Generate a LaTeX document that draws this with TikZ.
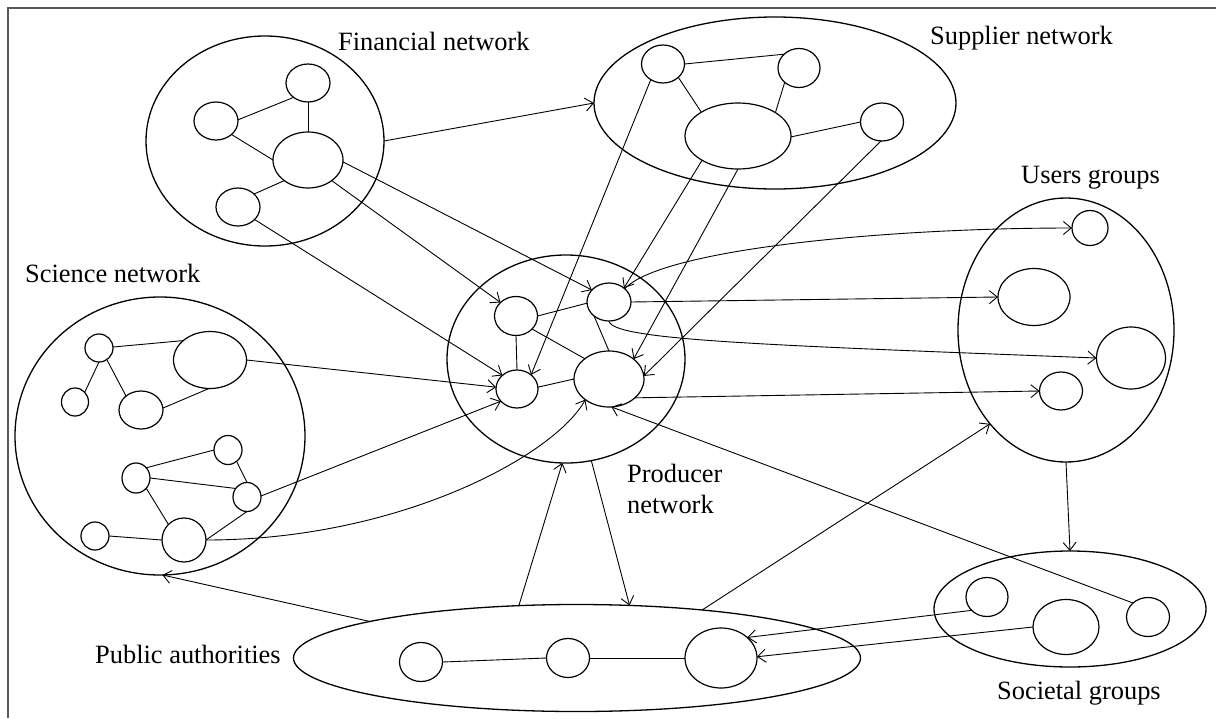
\documentclass[tikz,border=0pt]{standalone}
\usepackage{fontspec}
\setmainfont{Liberation Serif}
\usetikzlibrary{shapes.geometric,arrows.meta}
\begin{document}
\begin{tikzpicture}[x=1pt,y=-1pt,
  sz/.style 2 args={minimum width=#1pt,minimum height=#2pt},
  grp/.style={ellipse,draw,line width=1.3pt,inner sep=0pt,outer sep=0pt},
  actor/.style={ellipse,draw,line width=1.2pt,inner sep=0pt,outer sep=0pt},
  tie/.style={line width=0.9pt},
  flow/.style={line width=0.9pt,-{Straight Barb[length=8pt,width=13pt]}},
  lbl/.style={anchor=base west,inner sep=0pt,font=\fontsize{26.4}{31}\selectfont}]
\useasboundingbox (0,0) rectangle (1216,718);

% frame
\draw[line width=1.2pt,black!65] (8,718) -- (8,8) -- (1216,8);

% ---- financial network
\node[grp,sz={238}{210}] (FN) at (265,141) {};
\node[actor,sz={44}{38}] (F1) at (308,83) {};
\node[actor,sz={44}{38}] (F2) at (216,121) {};
\node[actor,sz={70}{56}] (F3) at (308,160) {};
\node[actor,sz={44}{38}] (F4) at (238,207) {};
\node[lbl] (FNl) at (338,50) {Financial network};

% ---- supplier network
\node[grp,sz={362}{172}] (SN) at (775,103) {};
\node[actor,sz={43}{38}] (SA) at (663,64) {};
\node[actor,sz={42}{39}] (SB) at (799,68) {};
\node[actor,sz={106}{66}] (SC) at (738,136) {};
\node[actor,sz={43}{38}] (SD) at (882,122) {};
\node[lbl] (SNl) at (930,44) {Supplier network};

% ---- producer network
\node[grp,sz={238}{208}] (PN) at (566,359) {};
\node[actor,sz={43}{39}] (Q1) at (516,316) {};
\node[actor,sz={44}{38}] (Q2) at (609,302) {};
\node[actor,sz={42}{38}] (Q3) at (517,389) {};
\node[actor,sz={70}{56}] (Q4) at (609,379) {};
% base of a two-line node is the baseline of its last line
\node[lbl,align=left] (PNl) at (627,513) {Producer\\network};

% ---- science network
\node[grp,sz={290}{278}] (ScN) at (160,436) {};
\node[actor,sz={28}{28}] (N1) at (99,348) {};
\node[actor,sz={73}{57}] (N2) at (210,360) {};
\node[actor,sz={27}{28}] (N3) at (75,402) {};
\node[actor,sz={44}{38}] (N4) at (141,410) {};
\node[actor,sz={28}{29}] (N5) at (228,450) {};
\node[actor,sz={28}{30}] (N6) at (136,478) {};
\node[actor,sz={28}{29}] (N7) at (247,497) {};
\node[actor,sz={28}{28}] (N8) at (95,536) {};
\node[actor,sz={44}{44}] (N9) at (184,540) {};
\node[lbl] (ScNl) at (25,282) {Science network};

% ---- users groups
\node[grp,sz={216}{264}] (UG) at (1066,330) {};
\node[actor,sz={36}{35}] (U1) at (1090,228) {};
\node[actor,sz={72}{57}] (U2) at (1034,297) {};
\node[actor,sz={69}{62}] (U3) at (1131,358) {};
\node[actor,sz={43}{38}] (U4) at (1061,391) {};
\node[lbl] (UGl) at (1021,183) {Users groups};

% ---- societal groups
\node[grp,sz={272}{116}] (SG) at (1070,609) {};
\node[actor,sz={42}{39}] (S1) at (987,597) {};
\node[actor,sz={66}{55}] (S2) at (1066,627) {};
\node[actor,sz={43}{39}] (S3) at (1148,617) {};
\node[lbl] (SGl) at (997,699) {Societal groups};

% ---- public authorities
\node[grp,sz={567}{107}] (PA) at (577,658) {};
\node[actor,sz={43}{39}] (P1) at (421,662) {};
\node[actor,sz={43}{39}] (P2) at (568,658) {};
\node[actor,sz={72}{60}] (P3) at (721,658) {};
\node[lbl] (PAl) at (95,663) {Public authorities};

% ---- ties inside the networks
\draw[tie] (F2.3) -- (F1.225);
\draw[tie] (F1.south) -- (F3.north);
\draw[tie] (F2.-41) -- (F3.west);
\draw[tie] (F3.221) -- (F4.39);

\draw[tie] (SA.0) -- (SB.137);
\draw[tie] (SA.-41) -- (SC.147);
\draw[tie] (SB.-135) -- (SC.32);
\draw[tie] (SC.-1) -- (SD.180);

\draw[tie] (Q1.0) -- (Q2.183);
\draw[tie] (Q1.south) -- (Q3.north);
\draw[tie] (Q1.-39) -- (Q4.140);
\draw[tie] (Q2.223) -- (Q4.north);
\draw[tie] (Q3.5) -- (Q4.west);

\draw[tie] (N1.4) -- (N2.144);
\draw[tie] (N1.-90) -- (N3.45);
\draw[tie] (N1.-56) -- (N4.137);
\draw[tie] (N4.5) -- (N2.-92);
\draw[tie] (N6.45) -- (N5.180);
\draw[tie] (N6.0) -- (N7.143);
\draw[tie] (N5.-53) -- (N7.90);
\draw[tie] (N6.-45) -- (N9.135);
\draw[tie] (N8.0) -- (N9.180);
\draw[tie] (N9.0) -- (N7.-90);

\draw[tie] (P1.0) -- (P2.180);
\draw[tie] (P2.0) -- (P3.180);

% ---- flows between the networks
\draw[flow] (FN.0) -- (SN.180);
\draw[flow] (F3.-3) -- (Q2.145);
\draw[flow] (F3.-41) -- (Q1.139);
\draw[flow] (F4.-37) -- (Q3.137);

\draw[flow] (SA.-128) -- (Q3.45);
\draw[flow] (SC.-146) -- (Q2.43);
\draw[flow] (SC.-90) -- (Q4.39);
\draw[flow] (SD.-93) -- (Q4.5);

\draw[flow] (N2.0) -- (Q3.175);
\draw[flow] (N7.4) -- (Q3.217);
\draw[flow] (N9.0) .. controls (400,540) and (555,455) .. (Q4.221);

\draw[flow] (Q2.40) .. controls (660,250) and (880,228) .. (U1.180);
\draw[flow] (Q2.0) -- (U2.180);
\draw[flow] (Q2.-90) .. controls (612,340) and (760,345) .. (U3.180);
\draw[flow] (Q4.-36) -- (U4.180);

\draw[flow] (PA.170) -- (ScN.-89);
\draw[flow] (PA.138.5) -- (PN.-92);
\draw[flow] (PN.-76) -- (PA.45);
\draw[flow] (PA.21) -- (UG.-129);

\draw[flow] (UG.-90) -- (SG.90);
\draw[flow] (S3.137) -- (Q4.-85);
\draw[flow] (S1.221) -- (P3.38);
\draw[flow] (S2.180) -- (P3.2);
\end{tikzpicture}
\end{document}
